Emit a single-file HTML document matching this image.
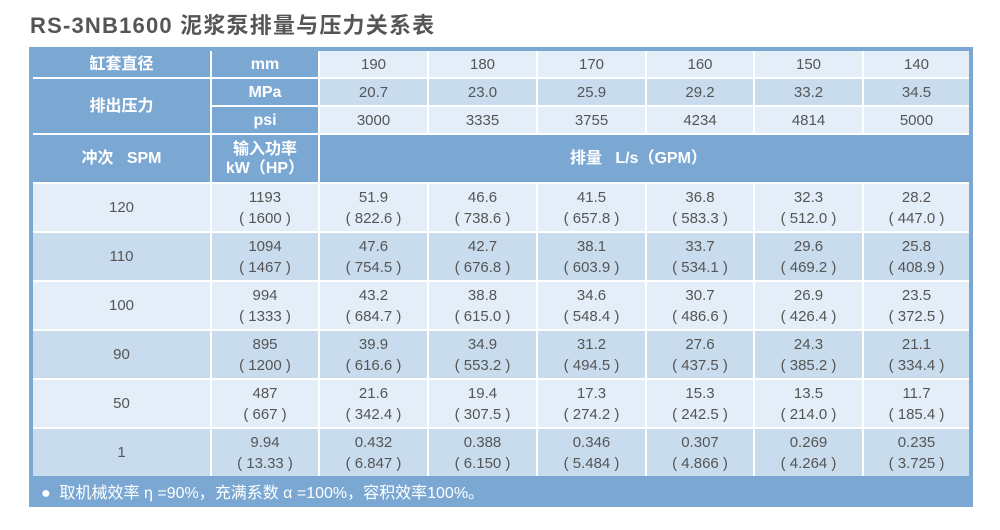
<!DOCTYPE html>
<html><head><meta charset="utf-8"><style>
body{margin:0;background:#fff;width:1000px;height:530px;position:relative;font-family:"Liberation Sans","Noto Sans CJK SC",sans-serif;overflow:hidden}
.title{position:absolute;left:30px;top:8px;font-size:22px;font-weight:bold;color:#555;letter-spacing:1.2px}
.frame{position:absolute;left:29px;top:47px;width:944px;height:460px;background:#7ba8d3}
.wrap{position:absolute;left:4px;top:4px;width:936px;height:425px;overflow:hidden;background:#fff}
table{position:absolute;left:-2px;top:-2px;width:940px;border-collapse:separate;border-spacing:2px;table-layout:fixed}
td{padding:0;text-align:center;vertical-align:middle;color:#555;font-size:15px;line-height:21px}
td.h{color:#fff;font-weight:bold;background:#7ba8d3;font-size:16px}
.l{background:#e4eef8}.m{background:#c8dcee}
.foot{position:absolute;left:12px;top:432px;color:#fff;font-size:16px}
</style></head><body>
<div class="title">RS-3NB1600 泥浆泵排量与压力关系表</div>
<div class="frame">
<div class="wrap">
<table>
<colgroup><col style="width:177px"><col style="width:106px"><col style="width:107px"><col style="width:107px"><col style="width:107px"><col style="width:106px"><col style="width:107px"><col style="width:105px"></colgroup>
<tr style="height:26px"><td class="h">缸套直径</td><td class="h">mm</td><td class="l">190</td><td class="l">180</td><td class="l">170</td><td class="l">160</td><td class="l">150</td><td class="l">140</td></tr>
<tr style="height:26px"><td class="h" rowspan="2">排出压力</td><td class="h">MPa</td><td class="m">20.7</td><td class="m">23.0</td><td class="m">25.9</td><td class="m">29.2</td><td class="m">33.2</td><td class="m">34.5</td></tr>
<tr style="height:26px"><td class="h">psi</td><td class="l">3000</td><td class="l">3335</td><td class="l">3755</td><td class="l">4234</td><td class="l">4814</td><td class="l">5000</td></tr>
<tr style="height:47px"><td class="h">冲次&nbsp;&nbsp;&nbsp;SPM</td><td class="h" style="line-height:19px">输入功率<br>kW（HP）</td><td class="h" colspan="6" style="text-align:left;padding-left:250px">排量&nbsp;&nbsp;&nbsp;L/s（GPM）</td></tr>
<tr style="height:47px"><td class="l">120</td><td class="l">1193<br>( 1600 )</td><td class="l">51.9<br>( 822.6 )</td><td class="l">46.6<br>( 738.6 )</td><td class="l">41.5<br>( 657.8 )</td><td class="l">36.8<br>( 583.3 )</td><td class="l">32.3<br>( 512.0 )</td><td class="l">28.2<br>( 447.0 )</td></tr>
<tr style="height:47px"><td class="m">110</td><td class="m">1094<br>( 1467 )</td><td class="m">47.6<br>( 754.5 )</td><td class="m">42.7<br>( 676.8 )</td><td class="m">38.1<br>( 603.9 )</td><td class="m">33.7<br>( 534.1 )</td><td class="m">29.6<br>( 469.2 )</td><td class="m">25.8<br>( 408.9 )</td></tr>
<tr style="height:47px"><td class="l">100</td><td class="l">994<br>( 1333 )</td><td class="l">43.2<br>( 684.7 )</td><td class="l">38.8<br>( 615.0 )</td><td class="l">34.6<br>( 548.4 )</td><td class="l">30.7<br>( 486.6 )</td><td class="l">26.9<br>( 426.4 )</td><td class="l">23.5<br>( 372.5 )</td></tr>
<tr style="height:47px"><td class="m">90</td><td class="m">895<br>( 1200 )</td><td class="m">39.9<br>( 616.6 )</td><td class="m">34.9<br>( 553.2 )</td><td class="m">31.2<br>( 494.5 )</td><td class="m">27.6<br>( 437.5 )</td><td class="m">24.3<br>( 385.2 )</td><td class="m">21.1<br>( 334.4 )</td></tr>
<tr style="height:47px"><td class="l">50</td><td class="l">487<br>( 667 )</td><td class="l">21.6<br>( 342.4 )</td><td class="l">19.4<br>( 307.5 )</td><td class="l">17.3<br>( 274.2 )</td><td class="l">15.3<br>( 242.5 )</td><td class="l">13.5<br>( 214.0 )</td><td class="l">11.7<br>( 185.4 )</td></tr>
<tr style="height:47px"><td class="m">1</td><td class="m">9.94<br>( 13.33 )</td><td class="m">0.432<br>( 6.847 )</td><td class="m">0.388<br>( 6.150 )</td><td class="m">0.346<br>( 5.484 )</td><td class="m">0.307<br>( 4.866 )</td><td class="m">0.269<br>( 4.264 )</td><td class="m">0.235<br>( 3.725 )</td></tr>
</table>
</div>
<div class="foot">●&nbsp;&nbsp;取机械效率 η =90%，充满系数 α =100%，容积效率100%。</div>
</div>
</body></html>
